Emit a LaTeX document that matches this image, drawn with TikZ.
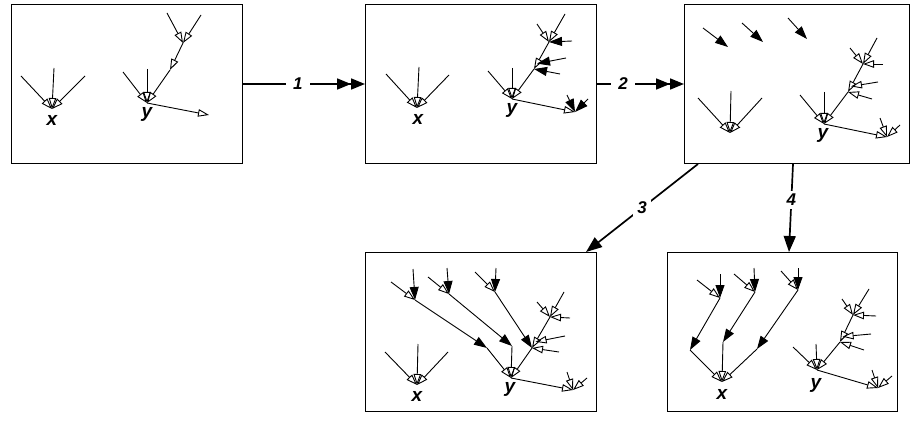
\documentclass[tikz,border=0pt]{standalone}
\usepackage{fontspec}
\setsansfont{Liberation Sans}
\usetikzlibrary{arrows.meta,calc}

% short in-edges: named free ends feeding one target
\newcommand\feed[3][edge]{%
  \foreach \p [count=\i] in {#3} {%
    \draw[#1] \p coordinate (#2-#1\i) -- (#2);}}

\begin{document}
\begin{tikzpicture}
  [x=1pt,y=-1pt,
   state/.style={draw,line width=1pt,anchor=north west,minimum width=231pt,minimum height=159pt,inner sep=0pt},
   edge/.style={line width=.9pt,-{Triangle[open,length=11pt,width=7.5pt]}},
   hit/.style={line width=.9pt,-{Triangle[length=13pt,width=9pt]}},
   lbl/.style={font=\sffamily\bfseries\itshape\fontsize{19}{19}\selectfont,inner sep=0pt},
   num/.style={font=\sffamily\bfseries\itshape\fontsize{17}{17}\selectfont,fill=white,inner xsep=7pt,inner ysep=2pt},
   move/.style={line width=1.7pt,-{Triangle[length=14pt,width=11pt]Triangle[length=14pt,width=11pt]}},
   split/.style={line width=1.7pt,-{Triangle[length=16pt,width=12pt]}}]
  \useasboundingbox (0,0) rectangle (910,425);

  \node[state] (s1) at (11,4) {};
  \node[state] (s2) at (365,4) {};
  \node[state,minimum width=225pt] (s3) at (684,4) {};
  \node[state] (s4) at (365,252) {};
  \node[state,minimum width=230pt] (s5) at (667,252) {};

  % state 1
  \begin{scope}[shift={(11,4)}]
    \coordinate (ax) at (41,105);
    \coordinate (ay) at (136,99);
    \coordinate (aw) at (159,66);
    \coordinate (az) at (172,39);
    \coordinate (av) at (198,111);
    \node[lbl] (ax-l) at (41,116) {x};
    \node[lbl] (ay-l) at (136,110) {y};
    \feed{ax}{(10,72),(43,64),(74,72)}
    \feed{ay}{(112,68),(136,65)}
    \feed{az}{(156,9),(190,11)}
    \draw[edge] (az) -- (aw);
    \draw[edge] (aw) -- (ay);
    \draw[edge] (ay) -- (av);
  \end{scope}

  % state 2
  \begin{scope}[shift={(365,4)}]
    \coordinate (bx) at (52,104);
    \coordinate (by) at (147,95);
    \coordinate (bw) at (169,65);
    \coordinate (bz) at (184,38);
    \coordinate (bv) at (210,108);
    \coordinate (bw2) at ($(bw)!.2!(bz)$);
    \node[lbl] (bx-l) at (53,115) {x};
    \node[lbl] (by-l) at (147,106) {y};
    \feed{bx}{(21,70),(54,63),(84,71)}
    \feed{by}{(123,67),(147,64)}
    \feed{bz}{(172,20),(200,10)}
    \feed[hit]{bz}{(207,37)}
    \feed[hit]{bw2}{(201,54)}
    \feed[hit]{bw}{(195,70)}
    \feed[hit]{bv}{(202,91),(223,95)}
    \draw[edge] (bz) -- (bw);
    \draw[edge] (bw) -- (by);
    \draw[edge] (by) -- (bv);
  \end{scope}

  % state 3
  \begin{scope}[shift={(684,4)}]
    \coordinate (cp1) at (44,43);
    \coordinate (cp2) at (79,38);
    \coordinate (cp3) at (123,35);
    \coordinate (cx) at (46,129);
    \coordinate (cy) at (140,120);
    \coordinate (cw) at (164,88);
    \coordinate (cz) at (179,60);
    \coordinate (cv) at (203,133);
    \coordinate (cw2) at ($(cw)!.2!(cz)$);
    \node[lbl] (cy-l) at (139,131) {y};
    \feed[hit]{cp1}{(19,24)}
    \feed[hit]{cp2}{(58,19)}
    \feed[hit]{cp3}{(104,14)}
    \feed{cx}{(14,94),(47,87),(78,94)}
    \feed{cy}{(116,91),(140,88)}
    \feed{cz}{(166,44),(193,34),(199,60)}
    \feed{cw2}{(194,78)}
    \feed{cw}{(188,95)}
    \feed{cv}{(196,114),(216,121)}
    \draw[edge] (cz) -- (cw);
    \draw[edge] (cw) -- (cy);
    \draw[edge] (cy) -- (cv);
  \end{scope}

  % state 4
  \begin{scope}[shift={(365,252)}]
    \coordinate (dx) at (52,133);
    \coordinate (dy) at (146,126);
    \coordinate (dw) at (167,96);
    \coordinate (dz) at (185,65);
    \coordinate (dv) at (208,138);
    \coordinate (dp1) at (50,48);
    \coordinate (dp2) at (84,42);
    \coordinate (dp3) at (130,40);
    \coordinate (dq1) at (122,96);
    \coordinate (dq2) at (147,94);
    \coordinate (dw2) at ($(dw)!.2!(dz)$);
    \node[lbl] (dx-l) at (52,144) {x};
    \node[lbl] (dy-l) at (145,137) {y};
    \feed{dx}{(20,100),(53,92),(83,100)}
    \feed{dp1}{(26,30)}
    \feed[hit]{dp1}{(48,17)}
    \feed{dp2}{(63,25)}
    \feed[hit]{dp2}{(82,16)}
    \feed{dp3}{(110,20)}
    \feed[hit]{dp3}{(131,16)}
    \draw[hit] (dp1) -- (dq1);
    \draw[edge] (dq1) -- (dy);
    \draw[hit] (dp2) -- (dq2);
    \draw[edge] (dq2) -- (dy);
    \draw[hit] (dp3) -- (dw);
    \feed{dz}{(172,50),(199,40),(205,66)}
    \feed{dw2}{(200,84)}
    \feed{dw}{(194,100)}
    \feed{dv}{(202,120),(222,126)}
    \draw[edge] (dz) -- (dw);
    \draw[edge] (dw) -- (dy);
    \draw[edge] (dy) -- (dv);
  \end{scope}

  % state 5
  \begin{scope}[shift={(667,252)}]
    \coordinate (ex) at (55,130);
    \coordinate (ey) at (150,118);
    \coordinate (ew) at (173,90);
    \coordinate (ez) at (186,63);
    \coordinate (ev) at (211,136);
    \coordinate (ep1) at (53,46);
    \coordinate (ep2) at (88,40);
    \coordinate (ep3) at (131,38);
    \coordinate (eq1) at (23,98);
    \coordinate (eq2) at (56,90);
    \coordinate (eq3) at (90,97);
    \coordinate (ew2) at ($(ew)!.2!(ez)$);
    \node[lbl] (ex-l) at (55,142) {x};
    \node[lbl] (ey-l) at (149,133) {y};
    \feed{ep1}{(30,28)}
    \feed[hit]{ep1}{(53,22)}
    \feed{ep2}{(67,22)}
    \feed[hit]{ep2}{(87,16)}
    \feed{ep3}{(114,19)}
    \feed[hit]{ep3}{(131,16)}
    \draw[hit] (ep1) -- (eq1);
    \draw[edge] (eq1) -- (ex);
    \draw[hit] (ep2) -- (eq2);
    \draw[edge] (eq2) -- (ex);
    \draw[hit] (ep3) -- (eq3);
    \draw[edge] (eq3) -- (ex);
    \feed{ey}{(126,95),(149,92)}
    \feed{ez}{(175,47),(202,37),(209,64)}
    \feed{ew2}{(204,82)}
    \feed{ew}{(197,98)}
    \feed{ev}{(205,118),(225,124)}
    \draw[edge] (ez) -- (ew);
    \draw[edge] (ew) -- (ey);
    \draw[edge] (ey) -- (ev);
  \end{scope}

  % steps between states
  \draw[move] (s1) -- node[num,pos=.45] (l1) {1} (s2);
  \draw[move] (s2) -- node[num,pos=.3] (l2) {2} (s3);
  \draw[split] ([xshift=14pt]s3.south west) -- node[num,pos=.5,inner xsep=4pt] (l3) {3} ([xshift=-11pt]s4.north east);
  \draw[split] ([xshift=109pt]s3.south west) -- node[num,pos=.41,inner xsep=2pt,inner ysep=3pt] (l4) {4} ([xshift=122pt]s5.north west);
\end{tikzpicture}
\end{document}
